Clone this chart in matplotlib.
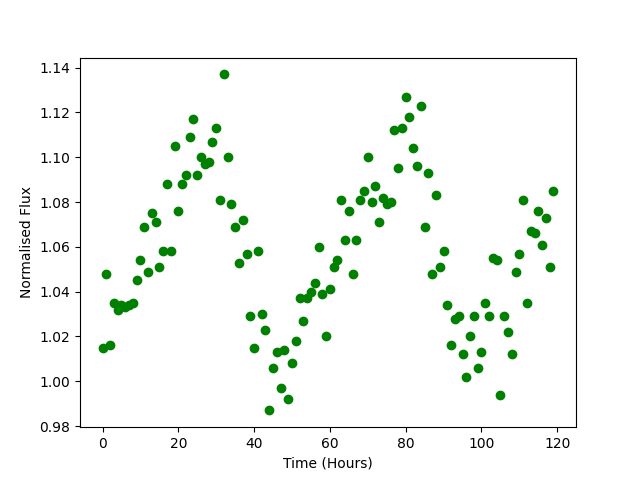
import matplotlib
matplotlib.use('Agg')
import matplotlib.pyplot as plt
import numpy as np


hours = np.arange(120)
flux = [
	1.015, 1.048, 1.016, 1.035, 1.032, 1.034, 1.033, 1.034, 1.035, 1.045,
	1.054, 1.069, 1.049, 1.075, 1.071, 1.051, 1.058, 1.088, 1.058, 1.105,
	1.076, 1.088, 1.092, 1.109, 1.117, 1.092, 1.100, 1.097, 1.098, 1.107,
	1.113, 1.081, 1.137, 1.100, 1.079, 1.069, 1.053, 1.072, 1.057, 1.029,
	1.015, 1.058, 1.030, 1.023, 0.987, 1.006, 1.013, 0.997, 1.014, 0.992,
	1.008, 1.018, 1.037, 1.027, 1.037, 1.040, 1.044, 1.060, 1.039, 1.020,
	1.041, 1.051, 1.054, 1.081, 1.063, 1.076, 1.048, 1.063, 1.081, 1.085,
	1.100, 1.080, 1.087, 1.071, 1.082, 1.079, 1.080, 1.112, 1.095, 1.113,
	1.127, 1.118, 1.104, 1.096, 1.123, 1.069, 1.093, 1.048, 1.083, 1.051,
	1.058, 1.034, 1.016, 1.028, 1.029, 1.012, 1.002, 1.020, 1.029, 1.006,
	1.013, 1.035, 1.029, 1.055, 1.054, 0.994, 1.029, 1.022, 1.012, 1.049,
	1.057, 1.081, 1.035, 1.067, 1.066, 1.076, 1.061, 1.073, 1.051, 1.085,
]


def flux_plot():
	plt.figure(figsize=(6.4, 4.8), dpi=100)
	plt.plot(hours, flux, 'o', color='green')
	plt.xlabel('Time (Hours)')
	plt.ylabel('Normalised Flux')
	plt.savefig('out.png')


if __name__ == "__main__":
	flux_plot()
